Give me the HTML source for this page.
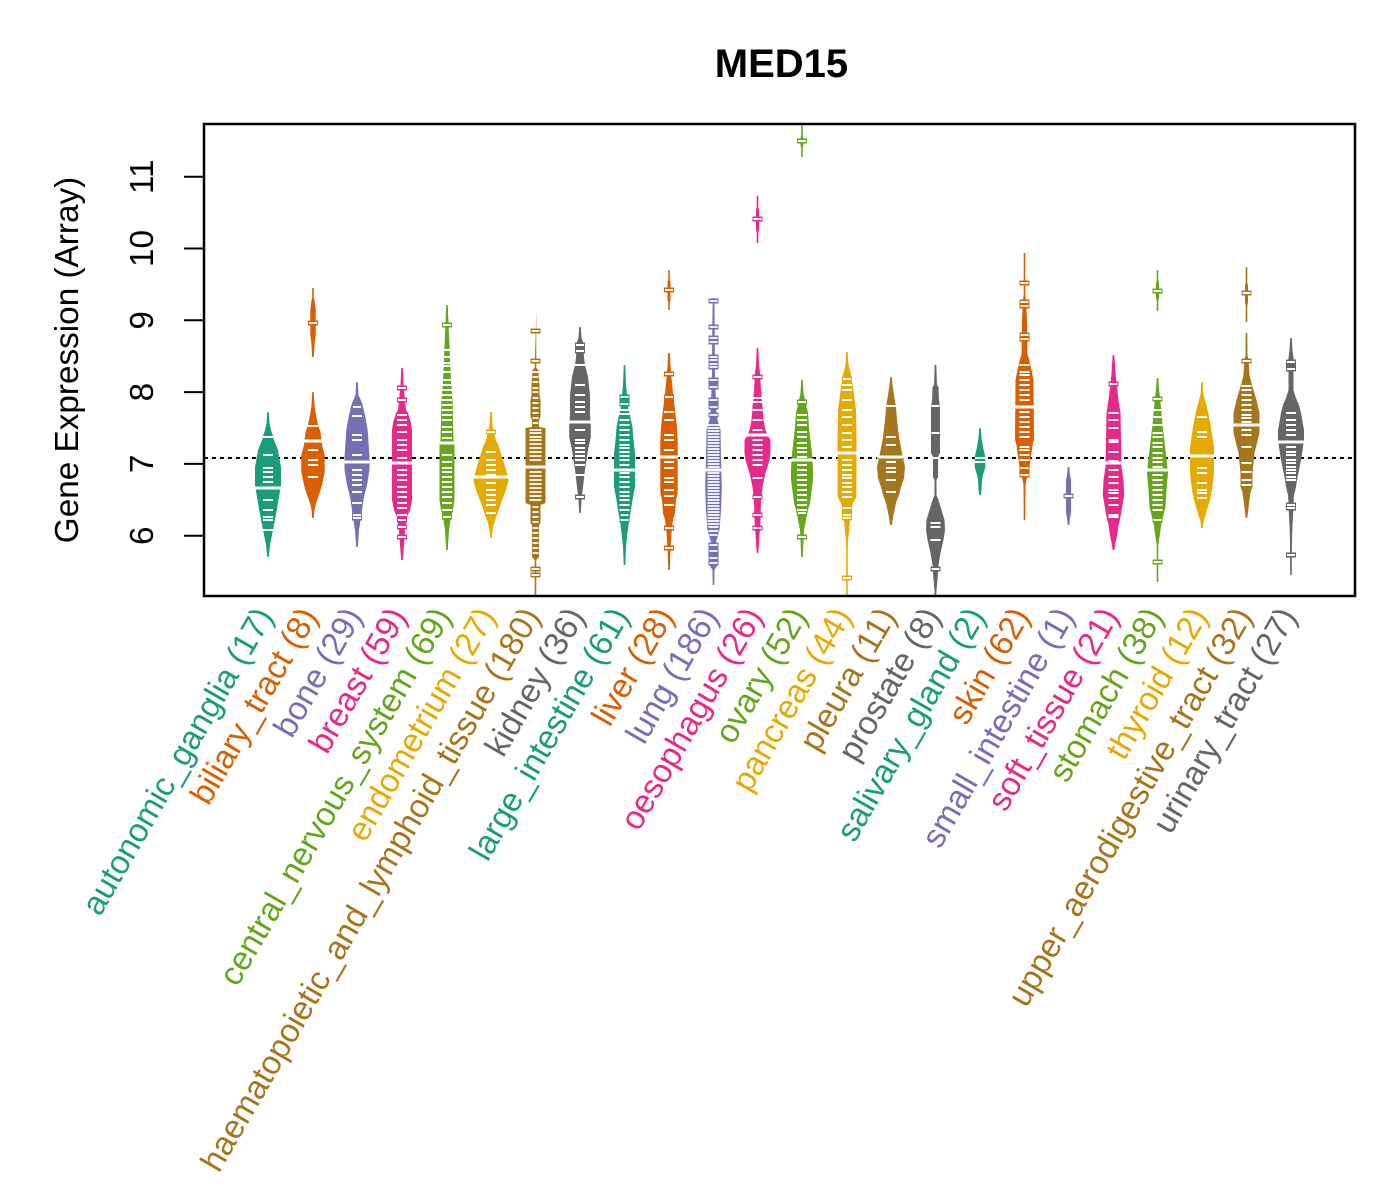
<!DOCTYPE html>
<html><head><meta charset="utf-8"><style>html,body{margin:0;padding:0;background:#fff}svg{display:block}text{font-family:"Liberation Sans",Arial,Helvetica,sans-serif}</style></head><body>
<svg width="1400" height="1200" viewBox="0 0 1400 1200" xmlns="http://www.w3.org/2000/svg">
<rect width="1400" height="1200" fill="#fff"/>
<text x="781.5" y="77" font-size="40" font-weight="bold" text-anchor="middle">MED15</text>
<line x1="204" y1="458" x2="1355" y2="458" stroke="#000" stroke-width="2" stroke-dasharray="4,4"/>
<defs><clipPath id="pc"><rect x="204" y="124" width="1151" height="472"/></clipPath></defs>
<g clip-path="url(#pc)">
<!-- B0 -->
<g transform="translate(268,0)" fill="#1B9E77">
<polygon points="0.8,412 1.5,423 3,430 6,440 10,450 13,467 13,485 10,503 7,520 5,530 2,545 0.8,557 -0.8,557 -2,545 -5,530 -7,520 -10,503 -13,485 -13,467 -10,450 -6,440 -3,430 -1.5,423 -0.8,412"/>
<rect x="-5" y="434.5" width="10" height="5"/>
<path d="M-5 437h10M-5 455h10M-5 468h10M-5 472h10M-5 477h10M-5 482h10M-5 500h10M-5 510h10M-5 517h10M-5 520h10M-5 530h10" stroke="#fff" stroke-width="2"/>
<path d="M-13.5 488h27" stroke="#fff" stroke-width="3"/>
</g>
<!-- B1 -->
<g transform="translate(313,0)" fill="#D95F02">
<polygon points="0.8,288 0.8,298 1.5,300 2.7,310 2.7,335 1.5,345 0.8,357 -0.8,357 -1.5,345 -2.7,335 -2.7,310 -1.5,300 -0.8,298 -0.8,288"/>
<polygon points="0.8,392 1.5,405 3,415 5,425 7.5,432 9,445 11.7,455 11.7,472 9,485 6,495 3,503 1.5,510 0.8,518 -0.8,518 -1.5,510 -3,503 -6,495 -9,485 -11.7,472 -11.7,455 -9,445 -7.5,432 -5,425 -3,415 -1.5,405 -0.8,392"/>
<rect x="-5" y="320.5" width="10" height="5"/>
<path d="M-4 323h8M-5 426h10M-5 450h10M-5 460h10M-5 477h10M-5 465h10" stroke="#fff" stroke-width="2"/>
<path d="M-12 441h24" stroke="#fff" stroke-width="3"/>
</g>
<!-- B2 -->
<g transform="translate(357,0)" fill="#7570B3">
<polygon points="0.8,382 1.5,395 5,403 8,415 10.7,430 12.5,457 12.5,470 10,485 7,497 5,510 4,517 2,530 0.8,547 -0.8,547 -2,530 -4,517 -5,510 -7,497 -10,485 -12.5,470 -12.5,457 -10.7,430 -8,415 -5,403 -1.5,395 -0.8,382"/>
<rect x="-5" y="404.5" width="10" height="5"/><rect x="-5" y="512.5" width="10" height="8"/>
<path d="M-4 407h8M-5 416h10M-5 435h10M-5 440h10M-5 455h10M-5 470h10M-5 475h10M-5 480h10M-5 485h10M-5 492h10M-5 503h10M-4 515h8M-4 518h8" stroke="#fff" stroke-width="2"/>
<path d="M-13.5 462h27" stroke="#fff" stroke-width="3"/>
</g>
<!-- B3 -->
<g transform="translate(402,0)" fill="#E7298A">
<polygon points="0.8,368 1.5,385 3,400 4,410 6,413 9,423 10,430 10,500 8,510 5,517 3,530 2,545 0.8,560 -0.8,560 -2,545 -3,530 -5,517 -8,510 -10,500 -10,430 -9,423 -6,413 -4,410 -3,400 -1.5,385 -0.8,368"/>
<rect x="-5" y="385.5" width="10" height="5"/><rect x="-5" y="397.5" width="10" height="5"/><rect x="-5" y="517.5" width="10" height="5"/><rect x="-5" y="524.5" width="10" height="5"/><rect x="-5" y="534.5" width="10" height="5"/>
<path d="M-4 388h8M-4 400h8M-5 415h10M-5 420h10M-5 425h10M-5 432h10M-5 440h10M-5 445h10M-5 450h10M-5 458h10M-5 470h10M-5 475h10M-5 480h10M-5 487h10M-5 492h10M-5 497h10M-5 503h10M-5 508h10M-5 515h10M-4 520h8M-4 527h8M-4 537h8" stroke="#fff" stroke-width="2"/>
<path d="M-11 463h22" stroke="#fff" stroke-width="3"/>
</g>
<!-- B4 -->
<g transform="translate(447,0)" fill="#66A61E">
<polygon points="0.8,305 1.5,325 2.5,345 3,360 4,380 5.5,400 6,420 6.5,440 7.5,445 7.5,500 6,510 4,517 2,530 0.8,550 -0.8,550 -2,530 -4,517 -6,510 -7.5,500 -7.5,445 -6.5,440 -6,420 -5.5,400 -4,380 -3,360 -2.5,345 -1.5,325 -0.8,305"/>
<rect x="-5" y="322.5" width="10" height="5"/><rect x="-5" y="514.5" width="10" height="5"/>
<path d="M-4 325h8M-5 350h10M-5 357h10M-5 363h10M-5 366h10M-5 372h10M-5 380h10M-5 385h10M-5 390h10M-5 395h10M-5 400h10M-5 405h10M-5 410h10M-5 415h10M-5 420h10M-5 427h10M-5 432h10M-5 438h10M-5 455h10M-5 462h10M-5 468h10M-5 472h10M-5 477h10M-5 482h10M-5 487h10M-5 492h10M-5 497h10M-5 503h10M-5 510h10M-4 517h8" stroke="#fff" stroke-width="2"/>
<path d="M-9 443h18" stroke="#fff" stroke-width="3"/>
</g>
<!-- B5 -->
<g transform="translate(491,0)" fill="#E6AB02">
<polygon points="0.8,412 1.5,425 3,433 5,440 8,447 12,460 15,470 17.8,480 15,490 10,503 6,515 3,523 1.5,530 0.8,538 -0.8,538 -1.5,530 -3,523 -6,515 -10,503 -15,490 -17.8,480 -15,470 -12,460 -8,447 -5,440 -3,433 -1.5,425 -0.8,412"/>
<rect x="-5" y="429.5" width="10" height="5"/>
<path d="M-4 432h8M-5 452h10M-5 460h10M-5 465h10M-5 470h10M-5 475h10M-5 483h10M-5 490h10M-5 495h10M-5 500h10M-5 505h10M-5 513h10" stroke="#fff" stroke-width="2"/>
<path d="M-18 477h36" stroke="#fff" stroke-width="3"/>
</g>
<!-- B6 -->
<g transform="translate(535.5,0)" fill="#A6761D">
<polygon points="0.8,310 0.8,368 3,370 4,385 4,395 5,400 5,417 3.5,420 3.5,427 10,428 10,503 5,505 5,523 3.5,525 3.5,557 0.8,560 0.8,600 -0.8,600 -0.8,560 -3.5,557 -3.5,525 -5,523 -5,505 -10,503 -10,428 -3.5,427 -3.5,420 -5,417 -5,400 -4,395 -4,385 -3,370 -0.8,368"/>
<rect x="-5" y="328.5" width="10" height="5"/><rect x="-5" y="358.5" width="10" height="5"/><rect x="-5" y="572.5" width="10" height="5"/><rect x="-5" y="566.5" width="10" height="5"/>
<path d="M-4 331h8M-4 361h8M-4 575h8M-4 569h8M-3 372h6M-3 377h6M-3 382h6M-3 388h6M-3 392h6M-3 398h6M-3 403h6M-3 408h6M-3 413h6M-3 418h6M-3 423h6M-6 430h12M-6 433h12M-6 437h12M-6 440h12M-6 444h12M-6 448h12M-6 452h12M-6 456h12M-6 460h12M-6 472h12M-6 476h12M-6 480h12M-6 484h12M-6 488h12M-6 492h12M-6 496h12M-6 500h12M-3 507h6M-3 512h6M-3 517h6M-3 522h6M-3 528h6M-3 533h6M-3 538h6M-3 543h6M-3 548h6M-3 553h6" stroke="#fff" stroke-width="1.8"/>
<path d="M-11 467h22" stroke="#fff" stroke-width="3"/>
</g>
<!-- B7 -->
<g transform="translate(580,0)" fill="#666666">
<polygon points="0.8,327 1.5,338 3,342 4,357 5,365 8,377 10,395 10,413 10.8,427 10.8,437 8,450 5,470 3,487 1.5,500 0.8,513 -0.8,513 -1.5,500 -3,487 -5,470 -8,450 -10.8,437 -10.8,427 -10,413 -10,395 -8,377 -5,365 -4,357 -3,342 -1.5,338 -0.8,327"/>
<rect x="-5" y="342.5" width="10" height="11"/><rect x="-5" y="494.5" width="10" height="5"/>
<path d="M-4 345h8M-4 351h8M-5 365h10M-5 385h10M-5 395h10M-5 402h10M-5 407h10M-5 412h10M-5 430h10M-5 440h10M-5 443h10M-5 448h10M-5 452h10M-5 456h10M-5 460h10M-5 465h10M-5 475h10M-4 497h8" stroke="#fff" stroke-width="2"/>
<path d="M-12 422h24" stroke="#fff" stroke-width="3"/>
</g>
<!-- B8 -->
<g transform="translate(624.5,0)" fill="#1B9E77">
<polygon points="0.8,365 1.5,385 2.5,395 3,405 5,413 8,427 9,440 10.5,453 10.5,487 8,500 6,513 4,525 3,533 1.5,547 0.8,565 -0.8,565 -1.5,547 -3,533 -4,525 -6,513 -8,500 -10.5,487 -10.5,453 -9,440 -8,427 -5,413 -3,405 -2.5,395 -1.5,385 -0.8,365"/>
<rect x="-5" y="394.5" width="10" height="12"/><rect x="-5" y="512.5" width="10" height="10"/>
<path d="M-4 397h8M-4 404h8M-5 410h10M-5 414h10M-5 420h10M-5 425h10M-5 430h10M-5 435h10M-5 440h10M-5 445h10M-5 448h10M-5 452h10M-5 456h10M-5 460h10M-5 465h10M-5 473h10M-5 477h10M-5 482h10M-5 487h10M-5 492h10M-5 496h10M-5 500h10M-5 505h10M-5 510h10M-4 515h8M-4 520h8" stroke="#fff" stroke-width="2"/>
<path d="M-11 470h22" stroke="#fff" stroke-width="3"/>
</g>
<!-- B9 -->
<g transform="translate(669,0)" fill="#D95F02">
<polygon points="0.8,270 0.8,280 1.5,282 1.5,300 0.8,302 0.8,310 -0.8,310 -0.8,302 -1.5,300 -1.5,282 -0.8,280 -0.8,270"/>
<polygon points="0.8,353 1.5,365 2,373 4,393 6,410 8,427 8.7,440 8.7,493 7,500 6,513 4,520 3,527 2,540 1.2,555 0.8,570 -0.8,570 -1.2,555 -2,540 -3,527 -4,520 -6,513 -7,500 -8.7,493 -8.7,440 -8,427 -6,410 -4,393 -2,373 -1.5,365 -0.8,353"/>
<rect x="-5" y="287.5" width="10" height="5"/><rect x="-5" y="371.5" width="10" height="5"/><rect x="-5" y="394.5" width="10" height="5"/><rect x="-5" y="525.5" width="10" height="5"/><rect x="-5" y="545.5" width="10" height="5"/>
<path d="M-4 290h8M-4 374h8M-4 397h8M-5 412h10M-5 420h10M-5 435h10M-5 440h10M-5 450h10M-5 462h10M-5 468h10M-5 478h10M-5 482h10M-5 490h10M-5 496h10M-5 505h10M-4 528h8M-4 548h8" stroke="#fff" stroke-width="2"/>
<path d="M-9.5 457h19" stroke="#fff" stroke-width="3"/>
</g>
<!-- B10 -->
<g transform="translate(713.5,0)" fill="#7570B3">
<polygon points="0.8,298 1.2,330 1.5,380 2.5,400 3,415 4,420 7,430 7.5,460 8.3,487 7.5,510 6,530 4,537 1.5,545 3,550 4,565 1,570 0.8,585 -0.8,585 -1,570 -4,565 -3,550 -1.5,545 -4,537 -6,530 -7.5,510 -8.3,487 -7.5,460 -7,430 -4,420 -3,415 -2.5,400 -1.5,380 -1.2,330 -0.8,298"/>
<rect x="-5" y="298.5" width="10" height="5"/><rect x="-5" y="324.5" width="10" height="5"/><rect x="-5" y="335.5" width="10" height="9"/><rect x="-5" y="354.5" width="10" height="15"/><rect x="-5" y="377.5" width="10" height="12"/><rect x="-5" y="397.5" width="10" height="12"/><rect x="-5" y="412.5" width="10" height="5"/><rect x="-5" y="542.5" width="10" height="23"/>
<path d="M-4 301h8M-4 327h8M-4 338h8M-4 342h8M-4 357h8M-4 360h8M-4 364h8M-4 367h8M-4 380h8M-4 387h8M-4 400h8M-4 407h8M-4 415h8M-4 545h8M-4 551h8M-4 558h8M-4 563h8M-6 425h12M-6 428h12M-6 431h12M-6 434h12M-6 437h12M-6 440h12M-6 443h12M-6 446h12M-6 449h12M-6 452h12M-6 455h12M-6 458h12M-6 461h12M-6 464h12M-6 467h12M-6 473h12M-6 476h12M-6 479h12M-6 482h12M-6 485h12M-6 488h12M-6 491h12M-6 494h12M-6 497h12M-6 500h12M-6 503h12M-6 506h12M-6 509h12M-6 512h12M-6 515h12M-6 518h12M-6 521h12M-6 524h12M-5 527h10M-5 531h10M-4 535h8" stroke="#fff" stroke-width="1.8"/>
<path d="M-9 470h18" stroke="#fff" stroke-width="3"/>
</g>
<!-- B11 -->
<g transform="translate(757.5,0)" fill="#E7298A">
<polygon points="0.8,196 0.8,207 1.5,210 1.5,230 0.8,233 0.8,243 -0.8,243 -0.8,233 -1.5,230 -1.5,210 -0.8,207 -0.8,196"/>
<polygon points="0.8,348 1.5,365 2.5,373 3.5,390 5,407 6,420 8,430 11,437 13,440 13,453 12,460 9,470 8,473 5,487 3.5,500 3,520 2,535 0.8,553 -0.8,553 -2,535 -3,520 -3.5,500 -5,487 -8,473 -9,470 -12,460 -13,453 -13,440 -11,437 -8,430 -6,420 -5,407 -3.5,390 -2.5,373 -1.5,365 -0.8,348"/>
<rect x="-5" y="216.5" width="10" height="5"/><rect x="-5" y="374.5" width="10" height="5"/><rect x="-5" y="494.5" width="10" height="5"/><rect x="-5" y="512.5" width="10" height="5"/><rect x="-5" y="525.5" width="10" height="5"/>
<path d="M-4 219h8M-4 377h8M-5 398h10M-5 402h10M-5 410h10M-5 420h10M-5 430h10M-5 440h10M-5 445h10M-5 450h10M-5 455h10M-5 460h10M-5 465h10M-5 478h10M-4 497h8M-4 515h8M-4 528h8" stroke="#fff" stroke-width="2"/>
<path d="M-14 435h28" stroke="#fff" stroke-width="3"/>
</g>
<!-- B12 -->
<g transform="translate(802,0)" fill="#66A61E">
<polygon points="0.8,122 0.8,135 1.5,138 1.5,145 0.8,148 0.8,157 -0.8,157 -0.8,148 -1.5,145 -1.5,138 -0.8,135 -0.8,122"/>
<polygon points="0.8,380 1.5,393 3,400 6,413 7,427 8,437 10,453 11,470 11,480 9,495 8,503 6,510 4,520 2,530 1.5,540 0.8,557 -0.8,557 -1.5,540 -2,530 -4,520 -6,510 -8,503 -9,495 -11,480 -11,470 -10,453 -8,437 -7,427 -6,413 -3,400 -1.5,393 -0.8,380"/>
<rect x="-5" y="138.5" width="10" height="5"/><rect x="-5" y="399.5" width="10" height="5"/><rect x="-5" y="510.5" width="10" height="5"/><rect x="-5" y="534.5" width="10" height="5"/>
<path d="M-4 141h8M-4 402h8M-5 415h10M-5 420h10M-5 425h10M-5 432h10M-5 437h10M-5 443h10M-5 448h10M-5 452h10M-5 457h10M-5 465h10M-5 470h10M-5 475h10M-5 480h10M-5 485h10M-5 490h10M-5 495h10M-5 500h10M-5 505h10M-5 510h10M-4 513h8M-4 537h8" stroke="#fff" stroke-width="2"/>
<path d="M-12 460h24" stroke="#fff" stroke-width="3"/>
</g>
<!-- B13 -->
<g transform="translate(847,0)" fill="#E6AB02">
<polygon points="0.8,352 1,360 2,367 4,375 6,387 8,403 9,410 9.5,440 9.5,465 9.3,497 6,503 5,507 3,520 2,533 1,540 0.8,550 0.8,600 -0.8,600 -0.8,550 -1,540 -2,533 -3,520 -5,507 -6,503 -9.3,497 -9.5,465 -9.5,440 -9,410 -8,403 -6,387 -4,375 -2,367 -1,360 -0.8,352"/>
<rect x="-5" y="376.5" width="10" height="5"/><rect x="-5" y="505.5" width="10" height="15"/><rect x="-5" y="575.5" width="10" height="5"/>
<path d="M-4 379h8M-5 385h10M-5 390h10M-5 400h10M-5 410h10M-5 417h10M-5 425h10M-5 433h10M-5 440h10M-5 447h10M-5 460h10M-5 465h10M-5 470h10M-5 475h10M-5 478h10M-5 483h10M-5 487h10M-5 492h10M-5 497h10M-4 508h8M-4 515h8M-4 518h8M-4 578h8" stroke="#fff" stroke-width="2"/>
<path d="M-10 453h20" stroke="#fff" stroke-width="3"/>
</g>
<!-- B14 -->
<g transform="translate(891,0)" fill="#A6761D">
<polygon points="0.8,377 1.5,385 3,395 5,407 6,420 8,437 11,453 14,467 13,478 10,487 8,495 5,503 2.5,515 0.8,525 -0.8,525 -2.5,515 -5,503 -8,495 -10,487 -13,478 -14,467 -11,453 -8,437 -6,420 -5,407 -3,395 -1.5,385 -0.8,377"/>
<path d="M-5 406h10M-5 437h10M-5 445h10M-5 462h10M-5 468h10M-5 472h10M-5 480h10M-5 492h10" stroke="#fff" stroke-width="2"/>
<path d="M-14 457h28" stroke="#fff" stroke-width="3"/>
</g>
<!-- B15 -->
<g transform="translate(935.5,0)" fill="#666666">
<polygon points="0.8,365 1.5,385 3,387 3.5,400 4.5,407 4.5,453 2.5,457 2.5,477 1,480 1,495 3,500 6,510 9,520 9.5,530 8,540 5,553 3,565 2,580 1,590 0.8,600 -0.8,600 -1,590 -2,580 -3,565 -5,553 -8,540 -9.5,530 -9,520 -6,510 -3,500 -1,495 -1,480 -2.5,477 -2.5,457 -4.5,453 -4.5,407 -3.5,400 -3,387 -1.5,385 -0.8,365"/>
<rect x="-5" y="566.5" width="10" height="5"/>
<path d="M-4 406h8M-4 433h8M-5 523h10M-5 527h10M-5 540h10M-4 569h8" stroke="#fff" stroke-width="2"/>
<path d="M-5 458h10" stroke="#fff" stroke-width="2"/>
</g>
<!-- B16 -->
<g transform="translate(980,0)" fill="#1B9E77">
<polygon points="0.8,428 1.5,438 3,447 5.3,457 5.3,467 3,475 2,480 1.5,490 0.8,495 -0.8,495 -1.5,490 -2,480 -3,475 -5.3,467 -5.3,457 -3,447 -1.5,438 -0.8,428"/>
<path d="M-5 458h10M-5 462h10" stroke="#fff" stroke-width="2"/>
</g>
<!-- B17 -->
<g transform="translate(1024.5,0)" fill="#D95F02">
<polygon points="0.8,253 0.8,295 1.5,300 2.5,320 3,355 4,357 7,370 9,380 9.5,440 8,445 7,453 5,467 3,475 2,480 1,485 0.8,520 -0.8,520 -1,485 -2,480 -3,475 -5,467 -7,453 -8,445 -9.5,440 -9,380 -7,370 -4,357 -3,355 -2.5,320 -1.5,300 -0.8,295 -0.8,253"/>
<rect x="-5" y="280.5" width="10" height="5"/><rect x="-5" y="299.5" width="10" height="9"/><rect x="-5" y="332.5" width="10" height="9"/><rect x="-5" y="465.5" width="10" height="12"/>
<path d="M-4 283h8M-4 302h8M-4 306h8M-4 335h8M-4 339h8M-4 468h8M-4 475h8M-5 365h10M-5 372h10M-5 375h10M-5 380h10M-5 385h10M-5 390h10M-5 395h10M-5 400h10M-5 412h10M-5 417h10M-5 422h10M-5 427h10M-5 432h10M-5 437h10M-5 447h10M-5 450h10M-5 455h10M-5 460h10" stroke="#fff" stroke-width="2"/>
<path d="M-11 407h22" stroke="#fff" stroke-width="3"/>
</g>
<!-- B18 -->
<g transform="translate(1068.5,0)" fill="#7570B3">
<polygon points="0.8,467 1.5,475 2.5,480 2.5,513 1.5,518 0.8,525 -0.8,525 -1.5,518 -2.5,513 -2.5,480 -1.5,475 -0.8,467"/>
<rect x="-5" y="493.5" width="10" height="5"/>
<path d="M-4 496h8" stroke="#fff" stroke-width="2"/>
</g>
<!-- B19 -->
<g transform="translate(1113.5,0)" fill="#E7298A">
<polygon points="0.8,355 1.5,365 2,373 3.5,387 5,400 7,413 7.5,440 8,467 10,480 10.7,495 9,505 7,517 5,525 4,533 2,543 0.8,550 -0.8,550 -2,543 -4,533 -5,525 -7,517 -9,505 -10.7,495 -10,480 -8,467 -7.5,440 -7,413 -5,400 -3.5,387 -2,373 -1.5,365 -0.8,355"/>
<rect x="-5" y="381.5" width="10" height="5"/>
<path d="M-4 384h8M-5 413h10M-5 420h10M-5 428h10M-5 440h10M-5 442h10M-5 452h10M-5 461h10M-5 470h10M-5 477h10M-5 483h10M-5 490h10M-5 493h10M-5 498h10M-5 505h10M-5 515h10M-5 517h10" stroke="#fff" stroke-width="2"/>
<path d="M-11 463h22" stroke="#fff" stroke-width="3"/>
</g>
<!-- B20 -->
<g transform="translate(1157.5,0)" fill="#66A61E">
<polygon points="0.8,270 0.8,280 1.5,283 1.5,298 0.8,301 0.8,311 -0.8,311 -0.8,301 -1.5,298 -1.5,283 -0.8,280 -0.8,270"/>
<polygon points="0.8,378 1.5,390 2.5,397 4,413 5,425 6,433 8,450 10.5,473 9,490 8,507 6,515 4,523 3,530 2,537 0.8,545 0.8,582 -0.8,582 -0.8,545 -2,537 -3,530 -4,523 -6,515 -8,507 -9,490 -10.5,473 -8,450 -6,433 -5,425 -4,413 -2.5,397 -1.5,390 -0.8,378"/>
<rect x="-5" y="288.5" width="10" height="5"/><rect x="-5" y="396.5" width="10" height="5"/><rect x="-5" y="517.5" width="10" height="5"/><rect x="-5" y="559.5" width="10" height="5"/>
<path d="M-4 291h8M-4 399h8M-5 410h10M-5 417h10M-5 425h10M-5 433h10M-5 437h10M-5 443h10M-5 447h10M-5 453h10M-5 458h10M-5 462h10M-5 467h10M-5 475h10M-5 480h10M-5 485h10M-5 490h10M-5 495h10M-5 500h10M-5 505h10M-5 510h10M-4 520h8M-4 562h8" stroke="#fff" stroke-width="2"/>
<path d="M-11 470h22" stroke="#fff" stroke-width="3"/>
</g>
<!-- B21 -->
<g transform="translate(1202,0)" fill="#E6AB02">
<polygon points="0.8,382 1.5,395 5,407 7,417 9,427 12,447 12,473 10,490 8,500 5,510 3,517 1.5,522 0.8,528 -0.8,528 -1.5,522 -3,517 -5,510 -8,500 -10,490 -12,473 -12,447 -9,427 -7,417 -5,407 -1.5,395 -0.8,382"/>
<path d="M-5 417h10M-5 432h10M-5 437h10M-5 468h10M-5 473h10M-5 483h10M-5 490h10M-5 493h10M-5 498h10" stroke="#fff" stroke-width="2"/>
<path d="M-13 456h26" stroke="#fff" stroke-width="3"/>
</g>
<!-- B22 -->
<g transform="translate(1246.5,0)" fill="#A6761D">
<polygon points="0.8,267 0.8,283 1.5,285 1.5,303 0.8,305 0.8,322 -0.8,322 -0.8,305 -1.5,303 -1.5,285 -0.8,283 -0.8,267"/>
<polygon points="0.8,333 1,355 2,360 2.5,367 3,375 5,383 7,390 10,400 13,413 13,433 10,445 8,453 6,473 6,487 4,492 3,500 2,508 0.8,518 -0.8,518 -2,508 -3,500 -4,492 -6,487 -6,473 -8,453 -10,445 -13,433 -13,413 -10,400 -7,390 -5,383 -3,375 -2.5,367 -2,360 -1,355 -0.8,333"/>
<rect x="-5" y="290.5" width="10" height="5"/><rect x="-5" y="358.5" width="10" height="5"/>
<path d="M-4 293h8M-4 361h8M-5 386h10M-5 390h10M-5 395h10M-5 400h10M-5 405h10M-5 410h10M-5 415h10M-5 418h10M-5 422h10M-5 430h10M-5 435h10M-5 447h10M-5 463h10M-5 472h10M-5 480h10M-5 485h10" stroke="#fff" stroke-width="2"/>
<path d="M-14 425h28" stroke="#fff" stroke-width="3"/>
</g>
<!-- B23 -->
<g transform="translate(1291,0)" fill="#666666">
<polygon points="0.8,338 1.5,350 2.5,358 2.5,390 4,395 5,398 8,405 10,413 13,430 13,440 12,447 10,460 8,470 6,480 5,487 3,495 2.5,503 2,517 1.5,525 1,540 0.8,575 -0.8,575 -1,540 -1.5,525 -2,517 -2.5,503 -3,495 -5,487 -6,480 -8,470 -10,460 -12,447 -13,440 -13,430 -10,413 -8,405 -5,398 -4,395 -2.5,390 -2.5,358 -1.5,350 -0.8,338"/>
<rect x="-5" y="359.5" width="10" height="12"/><rect x="-5" y="502.5" width="10" height="8"/><rect x="-5" y="552.5" width="10" height="5"/>
<path d="M-4 362h8M-4 369h8M-4 505h8M-4 508h8M-4 555h8M-5 413h10M-5 420h10M-5 425h10M-5 430h10M-5 435h10M-5 447h10M-5 452h10M-5 455h10M-5 460h10M-5 463h10M-5 467h10M-5 470h10M-5 473h10M-5 477h10M-5 480h10" stroke="#fff" stroke-width="2"/>
<path d="M-14 442h28" stroke="#fff" stroke-width="3"/>
</g>
</g>
<!-- axes -->
<rect x="204" y="124" width="1151" height="472" fill="none" stroke="#000" stroke-width="2.5"/>
<g stroke="#000" stroke-width="2">
<line x1="184" y1="535.7" x2="204" y2="535.7"/>
<line x1="184" y1="463.9" x2="204" y2="463.9"/>
<line x1="184" y1="392.1" x2="204" y2="392.1"/>
<line x1="184" y1="320.3" x2="204" y2="320.3"/>
<line x1="184" y1="248.5" x2="204" y2="248.5"/>
<line x1="184" y1="176.7" x2="204" y2="176.7"/>
</g>
<g font-size="33.3" text-anchor="middle" fill="#000">
<text transform="translate(153,535.7) rotate(-90)">6</text>
<text transform="translate(153,463.9) rotate(-90)">7</text>
<text transform="translate(153,392.1) rotate(-90)">8</text>
<text transform="translate(153,320.3) rotate(-90)">9</text>
<text transform="translate(153,248.5) rotate(-90)">10</text>
<text transform="translate(153,176.7) rotate(-90)">11</text>
<text transform="translate(78,360) rotate(-90)">Gene Expression (Array)</text>
</g>
<g font-size="33.3" text-anchor="end">
<text transform="translate(274,616) rotate(-60)" fill="#1B9E77">autonomic_ganglia (17)</text>
<text transform="translate(318.5,616) rotate(-60)" fill="#D95F02">biliary_tract (8)</text>
<text transform="translate(363,616) rotate(-60)" fill="#7570B3">bone (29)</text>
<text transform="translate(407.5,616) rotate(-60)" fill="#E7298A">breast (59)</text>
<text transform="translate(452,616) rotate(-60)" fill="#66A61E">central_nervous_system (69)</text>
<text transform="translate(496.5,616) rotate(-60)" fill="#E6AB02">endometrium (27)</text>
<text transform="translate(541,616) rotate(-60)" fill="#A6761D">haematopoietic_and_lymphoid_tissue (180)</text>
<text transform="translate(585.5,616) rotate(-60)" fill="#666666">kidney (36)</text>
<text transform="translate(630,616) rotate(-60)" fill="#1B9E77">large_intestine (61)</text>
<text transform="translate(674.5,616) rotate(-60)" fill="#D95F02">liver (28)</text>
<text transform="translate(719,616) rotate(-60)" fill="#7570B3">lung (186)</text>
<text transform="translate(763.5,616) rotate(-60)" fill="#E7298A">oesophagus (26)</text>
<text transform="translate(808,616) rotate(-60)" fill="#66A61E">ovary (52)</text>
<text transform="translate(852.5,616) rotate(-60)" fill="#E6AB02">pancreas (44)</text>
<text transform="translate(897,616) rotate(-60)" fill="#A6761D">pleura (11)</text>
<text transform="translate(941.5,616) rotate(-60)" fill="#666666">prostate (8)</text>
<text transform="translate(986,616) rotate(-60)" fill="#1B9E77">salivary_gland (2)</text>
<text transform="translate(1030.5,616) rotate(-60)" fill="#D95F02">skin (62)</text>
<text transform="translate(1075,616) rotate(-60)" fill="#7570B3">small_intestine (1)</text>
<text transform="translate(1119.5,616) rotate(-60)" fill="#E7298A">soft_tissue (21)</text>
<text transform="translate(1164,616) rotate(-60)" fill="#66A61E">stomach (38)</text>
<text transform="translate(1208.5,616) rotate(-60)" fill="#E6AB02">thyroid (12)</text>
<text transform="translate(1253,616) rotate(-60)" fill="#A6761D">upper_aerodigestive_tract (32)</text>
<text transform="translate(1297.5,616) rotate(-60)" fill="#666666">urinary_tract (27)</text>
</g>
</svg>
</body></html>
